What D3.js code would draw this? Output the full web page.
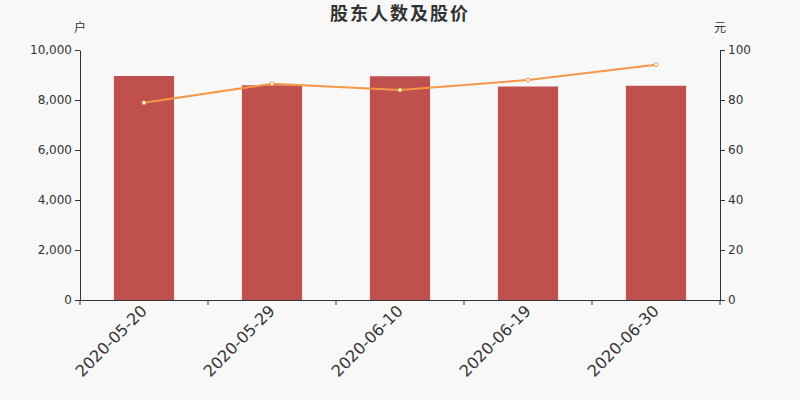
<!DOCTYPE html>
<html>
<head>
<meta charset="utf-8">
<script src="https://cdn.jsdelivr.net/npm/d3@7"></script>
<style>
  body { margin: 0; background: #f8f8f8; }
  svg { display: block; font-family: "DejaVu Sans", "Noto Sans CJK SC", sans-serif; }
</style>
</head>
<body>
<div id="chart"></div>
<script>
// data
const dates = ['2020-05-20', '2020-05-29', '2020-06-10', '2020-06-19', '2020-06-30'];
const holders = [8960, 8590, 8950, 8540, 8570];
const prices = [78.9, 86.5, 84.0, 88.0, 94.1];
const leftTicks = [0, 2000, 4000, 6000, 8000, 10000];
const rightTicks = [0, 20, 40, 60, 80, 100];

const width = 800;
const height = 400;
const margin = { top: 50, right: 80, bottom: 100, left: 80 };
const innerW = width - margin.left - margin.right;
const innerH = height - margin.top - margin.bottom;
const barColor = '#c0504d';
const lineColor = '#f79646';
const axisColor = '#333';
const fontFamily = '"DejaVu Sans", "Noto Sans CJK SC", sans-serif';

const svg = d3.select('#chart').append('svg')
	.attr('width', width)
	.attr('height', height)
	.style('background', '#f8f8f8');

svg.append('text')
	.attr('x', width / 2)
	.attr('y', 20)
	.style('text-anchor', 'middle')
	.style('font-family', fontFamily)
	.style('font-size', '18px')
	.style('font-weight', 'bold')
	.style('letter-spacing', '2px')
	.style('fill', axisColor)
	.text('股东人数及股价');

const chart = svg.append('g')
	.attr('transform', `translate(${margin.left}, ${margin.top})`);

const x = d3.scaleBand()
	.domain(dates)
	.range([0, innerW]);
const yLeft = d3.scaleLinear()
	.domain([0, 10000])
	.range([innerH, 0]);
const yRight = d3.scaleLinear()
	.domain([0, 100])
	.range([innerH, 0]);

// bars
const barW = x.bandwidth() * 0.47;
chart.append('g').selectAll('rect')
	.data(dates)
	.enter().append('rect')
		.attr('x', d => x(d) + (x.bandwidth() - barW) / 2)
		.attr('y', (d, i) => yLeft(holders[i]))
		.attr('width', barW)
		.attr('height', (d, i) => innerH - yLeft(holders[i]))
		.style('fill', barColor);

// axes
const fmt = d3.format(',');
const leftAxis = d3.axisLeft(yLeft)
	.tickValues(leftTicks)
	.tickFormat(fmt)
	.tickSize(5)
	.tickSizeOuter(0)
	.tickPadding(3);
const rightAxis = d3.axisRight(yRight)
	.tickValues(rightTicks)
	.tickSize(5)
	.tickSizeOuter(0)
	.tickPadding(3);
const bottomAxis = d3.axisBottom(x)
	.tickSize(0)
	.tickSizeOuter(0)
	.tickPadding(0);

const styleAxis = g => {
	g.attr('font-family', null).style('font-family', fontFamily);
	g.select('.domain').style('stroke', axisColor);
	g.selectAll('.tick line').style('stroke', axisColor);
	g.selectAll('.tick text').style('fill', axisColor).style('font-size', '12px');
};

chart.append('g').call(leftAxis).call(styleAxis);
chart.append('g')
	.attr('transform', `translate(${innerW}, 0)`)
	.call(rightAxis).call(styleAxis);

const xAxisG = chart.append('g')
	.attr('transform', `translate(0, ${innerH})`)
	.call(bottomAxis)
	.call(styleAxis);
xAxisG.selectAll('.tick text')
	.style('font-size', '16px')
	.style('text-anchor', 'end')
	.attr('dy', '0.35em')
	.attr('transform', 'translate(0, 8) rotate(-45)');

// boundary ticks between categories
chart.append('g').selectAll('line')
	.data(dates.concat(['end']))
	.enter().append('line')
		.attr('x1', (d, i) => i * x.step())
		.attr('x2', (d, i) => i * x.step())
		.attr('y1', innerH)
		.attr('y2', innerH + 5)
		.style('stroke', axisColor);

// unit labels
chart.append('text')
	.attr('x', 0)
	.attr('y', -18)
	.style('text-anchor', 'middle')
	.style('font-size', '12px')
	.style('fill', axisColor)
	.text('户');
chart.append('text')
	.attr('x', innerW)
	.attr('y', -18)
	.style('text-anchor', 'middle')
	.style('font-size', '12px')
	.style('fill', axisColor)
	.text('元');

// price line
const lineFunc = d3.line()
	.x(d => x(d) + x.bandwidth() / 2)
	.y((d, i) => yRight(prices[i]));

chart.append('path')
	.attr('d', lineFunc(dates))
	.style('fill', 'none')
	.style('stroke', lineColor)
	.style('stroke-width', 2);

chart.append('g').selectAll('circle')
	.data(dates)
	.enter().append('circle')
		.attr('cx', d => x(d) + x.bandwidth() / 2)
		.attr('cy', (d, i) => yRight(prices[i]))
		.attr('r', 2)
		.style('fill', '#fff')
		.style('stroke', lineColor)
		.style('stroke-width', 1);
</script>
</body>
</html>
